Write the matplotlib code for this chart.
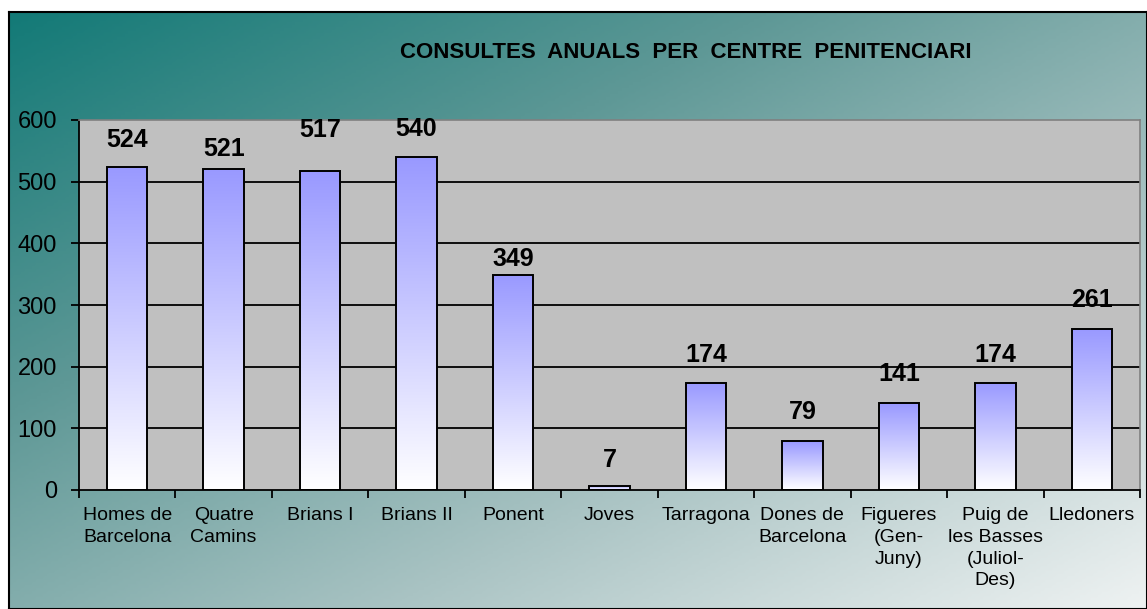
import matplotlib.pyplot as plt
import numpy as np
from matplotlib.colors import LinearSegmentedColormap

plt.rcParams['font.family'] = ['Liberation Sans', 'DejaVu Sans']

centres = ['Homes de\nBarcelona', 'Quatre\nCamins', 'Brians I', 'Brians II', 'Ponent',
           'Joves', 'Tarragona', 'Dones de\nBarcelona', 'Figueres\n(Gen-\nJuny)',
           'Puig de\nles Basses\n(Juliol-\nDes)', 'Lledoners']
consultes = [524, 521, 517, 540, 349, 7, 174, 79, 141, 174, 261]
yticks = [0, 100, 200, 300, 400, 500, 600]
title = 'CONSULTES  ANUALS  PER  CENTRE  PENITENCIARI'

# gap between bar top and its value label, in pixels (as in the original)
label_gap_px = [15, 8, 29, 16, 4, 14, 16, 17, 17, 16, 17]

fig = plt.figure(figsize=(11.47, 6.09), dpi=100)

# background with diagonal gradient
bg = fig.add_axes([9/1147, 0, 1 - 9/1147, 1 - 12/609])
xx, yy = np.meshgrid(np.linspace(0, 1, 300), np.linspace(0, 1, 200))
t = np.clip((xx + yy) / 2, 0, 1)
bg_cmap = LinearSegmentedColormap.from_list('bg', ['#137a77', '#5e9896', '#a9c3c3', '#eef2f2'])
bg.imshow(t, cmap=bg_cmap, aspect='auto', extent=[0, 1, 0, 1], origin='upper', vmin=0, vmax=1)
bg.set_xlim(0, 1)
bg.set_ylim(0, 1)
bg.set_xticks([])
bg.set_yticks([])
for s in bg.spines.values():
    s.set_color('black')
    s.set_linewidth(1.5)
bg.set_zorder(0)

ax = fig.add_axes([79/1147, 1 - 490/609, (1140 - 79)/1147, (490 - 120)/609])
ax.set_zorder(1)
ax.set_facecolor('#c0c0c0')

x = np.arange(len(consultes))
bar_w = 0.42
ax.set_xlim(-0.5, len(consultes) - 0.5)
ax.set_ylim(0, 600)

for yv in yticks[1:-1]:
    ax.axhline(yv, color='black', lw=1.3, zorder=1)

bar_cmap = LinearSegmentedColormap.from_list('bar', ['#ffffff', '#ccccff', '#9999ff'])
grad = np.linspace(0, 1, 256).reshape(-1, 1)
bars = ax.bar(x, consultes, width=bar_w, facecolor='none', edgecolor='black', lw=1.4, zorder=3)
for b in bars:
    bx, by = b.get_x(), b.get_y()
    bw, bh = b.get_width(), b.get_height()
    im = ax.imshow(grad, cmap=bar_cmap, aspect='auto', origin='lower',
                   extent=[bx, bx + bw, by, by + bh], zorder=2)
    im.set_clip_path(b)

for xi, v, gap in zip(x, consultes, label_gap_px):
    ax.annotate(str(v), (xi, v), xytext=(0, gap * 0.72), textcoords='offset points',
                ha='center', va='bottom', fontsize=18, fontweight='bold', zorder=4)

ax.set_yticks(yticks)
ax.set_yticklabels([str(v) for v in yticks], fontsize=17)
ax.tick_params(axis='y', length=6, width=1.3, pad=10, color='black')

ax.set_xticks(x)
ax.set_xticklabels(centres, fontsize=14, linespacing=1.38, va='top')
ax.tick_params(axis='x', which='major', length=0, pad=12)
ax.set_xticks(np.arange(len(consultes) + 1) - 0.5, minor=True)
ax.tick_params(axis='x', which='minor', length=6, width=1.3, color='black')

ax.spines['left'].set_color('black')
ax.spines['left'].set_linewidth(1.3)
ax.spines['bottom'].set_color('black')
ax.spines['bottom'].set_linewidth(1.3)
ax.spines['top'].set_color('#808080')
ax.spines['right'].set_color('#808080')
ax.spines['top'].set_linewidth(1.2)
ax.spines['right'].set_linewidth(1.2)

fig.text(686/1147, 1 - 52/609, title, ha='center', va='center',
         fontsize=16, fontweight='bold')

fig.savefig('out.png', dpi=100)
